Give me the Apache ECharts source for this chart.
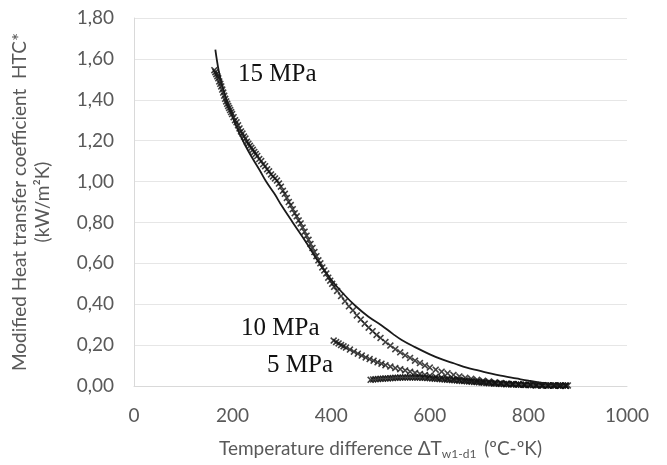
<!DOCTYPE html>
<html><head><meta charset="utf-8">
<script src="https://cdn.jsdelivr.net/npm/echarts@6/dist/echarts.min.js"></script>
<style>html,body{margin:0;padding:0;background:#fff}#c{width:667px;height:465px}</style>
</head><body><div id="c"></div>
<script>
// ---- data ----
const xTicks = ['0', '200', '400', '600', '800', '1000'];
const yTicks = ['0,00','0,20','0,40','0,60','0,80','1,00','1,20','1,40','1,60','1,80'];
const seriesNames = ['15 MPa', '10 MPa', '5 MPa'];

const mpa15X = [163,165,167,169,171,173,175,177,179,181,183,185,187,189,191,193,195,197,199,202,205,208,211,214,217,220,223,226,229,232,235,238,241,244,247,250,254,258,262,266,270,274,278,282,286,290,294,298,302,306,310,314,318,322,326,330,334,338,342,346,350,354,358,362,366,370,374,378,382,386,390,394,398,402,406,412,420,428,436,444,452,460,468,476,484,492,500,510,520,530,540,550,560,570,580,590,600,612,624,636,648,660,672,684,696,708,720,732,744,756,768,780,792,804,816,828,840,852,864,876];
const mpa15Y = [1.545,1.535,1.525,1.515,1.505,1.49,1.478,1.465,1.45,1.435,1.42,1.405,1.392,1.38,1.37,1.36,1.35,1.34,1.33,1.315,1.30,1.29,1.275,1.26,1.245,1.235,1.22,1.21,1.195,1.185,1.175,1.165,1.155,1.145,1.135,1.125,1.11,1.10,1.085,1.075,1.06,1.05,1.035,1.025,1.015,1.005,0.99,0.975,0.955,0.94,0.92,0.90,0.885,0.865,0.845,0.83,0.81,0.795,0.775,0.755,0.735,0.715,0.695,0.675,0.655,0.635,0.615,0.60,0.58,0.565,0.55,0.53,0.515,0.50,0.485,0.465,0.44,0.415,0.39,0.37,0.345,0.325,0.305,0.285,0.268,0.25,0.235,0.215,0.198,0.18,0.165,0.15,0.137,0.124,0.112,0.10,0.09,0.08,0.07,0.062,0.054,0.047,0.04,0.035,0.03,0.026,0.022,0.018,0.015,0.012,0.01,0.008,0.006,0.005,0.004,0.003,0.002,0.002,0.001,0.001];

const mpa10X = [405,410,415,420,425,430,438,446,454,462,470,478,486,494,502,510,520,530,540,550,560,570,580,590,600,612,624,636,648,660,672,684,696,708,720,732,744,756,768,780,792,804,816,828,840,852,864,876];
const mpa10Y = [0.222,0.215,0.208,0.20,0.194,0.188,0.178,0.168,0.158,0.149,0.14,0.132,0.124,0.116,0.109,0.102,0.095,0.088,0.082,0.076,0.07,0.064,0.059,0.054,0.05,0.045,0.041,0.037,0.033,0.03,0.027,0.024,0.021,0.018,0.016,0.014,0.012,0.01,0.008,0.007,0.006,0.005,0.004,0.003,0.002,0.002,0.001,0.001];

const mpa5X = [480,485,490,495,500,505,510,515,520,525,530,535,540,545,550,555,560,565,570,575,580,585,590,595,600,605,610,615,620,625,630,635,640,645,650,655,660,665,670,675,680,685,690,695,700,705,710,715,720,725,730,735,740,745,750,755,760,765,770,775,780,785,790,795,800,805,810,815,820,825,830,835,840,845,850,855,860,865,870,875,880];
const mpa5Y = [0.03,0.032,0.033,0.034,0.035,0.036,0.037,0.037,0.038,0.039,0.04,0.04,0.041,0.041,0.042,0.042,0.042,0.042,0.042,0.041,0.041,0.04,0.04,0.039,0.038,0.037,0.036,0.035,0.034,0.033,0.032,0.031,0.03,0.029,0.028,0.027,0.026,0.025,0.024,0.023,0.022,0.021,0.02,0.019,0.018,0.017,0.016,0.015,0.014,0.013,0.012,0.012,0.011,0.01,0.01,0.009,0.009,0.008,0.008,0.007,0.007,0.006,0.006,0.006,0.005,0.005,0.005,0.004,0.004,0.004,0.004,0.003,0.003,0.003,0.003,0.003,0.003,0.003,0.003,0.003,0.003];

const fitX = [165,172,180,190,200,212,225,240,255,268,285,300,322,350,372,400,425,450,475,503,525,543,570,600,625,650,675,700,725,750,775,800,825,850,870];
const fitY = [1.645,1.54,1.46,1.38,1.315,1.245,1.18,1.115,1.055,1.00,0.94,0.88,0.80,0.70,0.615,0.52,0.45,0.39,0.34,0.295,0.255,0.225,0.19,0.155,0.13,0.11,0.09,0.075,0.06,0.048,0.037,0.026,0.016,0.008,0.003];

// ---- build ----
const zip = (xs, ys) => xs.map((x, i) => [x, ys[i]]);
const crossPath = 'path://M0,1.6L1.6,0L5,3.4L8.4,0L10,1.6L6.6,5L10,8.4L8.4,10L5,6.6L1.6,10L0,8.4L3.4,5Z';
const gray = '#595959';
const font = 'Lato, "Open Sans", sans-serif';
const serif = '25px "Liberation Serif", serif';

function scatter(name, xs, ys) {
  return {
    name, type: 'scatter', data: zip(xs, ys), symbol: crossPath, symbolSize: 7,
    itemStyle: { color: '#111' }, silent: true, z: 2
  };
}

const chart = echarts.init(document.getElementById('c'), null, { renderer: 'canvas' });
chart.setOption({
  animation: false,
  backgroundColor: '#fff',
  grid: { left: 130, right: 40, top: 18, bottom: 76, containLabel: false },
  xAxis: {
    type: 'value', min: 0, max: 1000, interval: 200,
    axisLine: { show: true, lineStyle: { color: '#d9d9d9', width: 1 } },
    axisTick: { show: false },
    splitLine: { show: false },
    axisLabel: { color: gray, fontFamily: font, fontSize: 19, margin: 20,
      formatter: (v) => xTicks[Math.round(v / 200)] },
    name: '{a|Temperature difference ΔT}{s|w1-d1}{a| (ºC-ºK)}',
    nameLocation: 'middle', nameGap: 48,
    nameTextStyle: {
      color: gray, fontFamily: font, fontSize: 19,
      rich: {
        a: { color: gray, fontFamily: font, fontSize: 19, lineHeight: 24, verticalAlign: 'bottom' },
        s: { color: gray, fontFamily: font, fontSize: 12, lineHeight: 14, verticalAlign: 'bottom', padding: [0, 3, -2, 0] }
      }
    }
  },
  yAxis: {
    type: 'value', min: 0, max: 1.8, interval: 0.2,
    axisLine: { show: true, lineStyle: { color: '#d9d9d9', width: 1 } },
    axisTick: { show: false },
    splitLine: { show: true, lineStyle: { color: '#e6e6e6', width: 1 } },
    axisLabel: {
      color: gray, fontFamily: font, fontSize: 19, margin: 20,
      formatter: (v) => yTicks[Math.round(v / 0.2)]
    },
    name: 'Modified Heat transfer coefficient  HTC*\n(kW/m²K)',
    nameLocation: 'middle', nameGap: 80, nameRotate: 90,
    nameTextStyle: { color: gray, fontFamily: font, fontSize: 19, lineHeight: 23, align: 'center' }
  },
  series: [
    scatter(seriesNames[0], mpa15X, mpa15Y),
    scatter(seriesNames[1], mpa10X, mpa10Y),
    scatter(seriesNames[2], mpa5X, mpa5Y),
    {
      name: 'fit', type: 'line', data: zip(fitX, fitY), smooth: 0.4, showSymbol: false,
      lineStyle: { color: '#1a1a1a', width: 1.8 }, z: 3, silent: true
    }
  ],
  graphic: [
    { type: 'text', left: 238, top: 62, style: { text: seriesNames[0], fill: '#111', font: serif } },
    { type: 'text', left: 241, top: 316, style: { text: seriesNames[1], fill: '#111', font: serif } },
    { type: 'text', left: 267, top: 353, style: { text: seriesNames[2], fill: '#111', font: serif } }
  ]
});
</script>
</body></html>
